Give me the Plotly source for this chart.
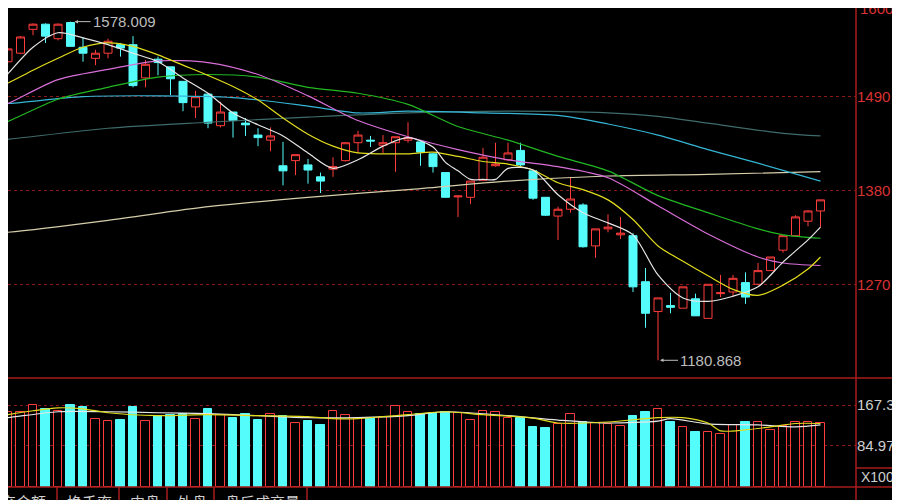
import plotly.graph_objects as go

# daily candles (price)
opens = [1531, 1541, 1569, 1575, 1558, 1577, 1548, 1535, 1541, 1551,
         1551, 1512, 1534, 1525, 1508, 1478, 1493, 1456, 1472, 1459,
         1445, 1439, 1409, 1415, 1410, 1396, 1405, 1415, 1436, 1439,
         1433, 1436, 1439, 1437, 1423, 1401, 1372.5, 1372, 1392, 1409,
         1416, 1427, 1403, 1372, 1350, 1358, 1363, 1315, 1335, 1328,
         1327, 1273, 1238, 1245, 1242, 1253, 1230, 1259, 1261, 1272,
         1270, 1286, 1310, 1327, 1344, 1356]
highs = [1547, 1561, 1576, 1576, 1576, 1578.009, 1560, 1545, 1558, 1553,
         1561, 1533, 1537, 1525, 1508, 1497, 1494, 1484, 1472, 1465,
         1453, 1454, 1437, 1422, 1417, 1401, 1419, 1436, 1450, 1444,
         1445, 1443, 1460, 1439, 1424, 1401, 1374, 1391, 1430, 1436,
         1436, 1436, 1403, 1372, 1361, 1396, 1365, 1335, 1352, 1349,
         1330, 1289, 1254, 1260, 1267, 1259, 1270, 1281, 1281, 1284,
         1295, 1302, 1328, 1351, 1357, 1369]
lows = [1530, 1540, 1562, 1553, 1556, 1549, 1531, 1527, 1535, 1537,
        1501, 1501, 1515, 1492, 1473, 1465, 1453, 1454, 1442, 1444,
        1432, 1426, 1386, 1398, 1388, 1377, 1396, 1414, 1424, 1431,
        1424, 1402, 1436, 1409, 1401, 1372, 1349, 1364, 1391, 1408,
        1415, 1408, 1369, 1350, 1322, 1354, 1313, 1301, 1331, 1323,
        1261, 1219, 1180.868, 1236, 1242, 1233, 1230, 1255, 1255, 1247,
        1269, 1286, 1307, 1327, 1338, 1337]
closes = [1546, 1560, 1575, 1561, 1575, 1549, 1541, 1541, 1555, 1547,
          1503, 1528, 1530, 1511, 1483, 1490, 1459, 1472, 1462, 1457,
          1442, 1444, 1403, 1422, 1404, 1391, 1408, 1436, 1445, 1438,
          1436, 1443, 1442, 1425, 1408, 1372, 1373.5, 1391, 1419, 1411,
          1424, 1410, 1371, 1351, 1358, 1370, 1314, 1335, 1337, 1330,
          1267, 1236, 1254, 1243, 1267, 1233, 1270, 1260, 1277, 1255,
          1286, 1302, 1327, 1349, 1356, 1369]
# volume (x1000)
volumes = [154, 154, 168, 159, 156, 168, 163, 139, 136, 137,
           163, 136, 146, 148, 150, 139, 160, 148, 142, 150,
           137, 150, 146, 132, 135, 127, 156, 148, 139, 141,
           144, 166, 154, 150, 151, 154, 151, 137, 156, 153,
           142, 141, 123, 121, 129, 150, 134, 131, 129, 124,
           146, 153, 159, 133, 122, 112, 112, 109, 127, 133,
           134, 117, 124, 134, 134, 132]
days = list(range(len(opens)))

# moving averages (day index, value)
ma5_x = [-1, 0, 2, 4, 6, 8, 10, 12, 14, 16, 18, 20, 22, 24, 26, 28, 30, 32, 34,
         35, 36, 37, 38, 39, 40, 42, 44, 46, 48, 50, 52, 54, 56, 58, 60, 62, 64, 65]
ma5_y = [1501, 1517, 1548, 1565, 1559, 1551, 1541, 1531, 1512, 1494, 1471, 1457, 1444,
         1424, 1406, 1416, 1432, 1442, 1431, 1413, 1403, 1393, 1393, 1393, 1406, 1404,
         1375, 1354, 1342, 1328, 1281, 1254, 1250, 1256, 1267, 1296, 1322, 1337]
ma10_x = [-1, 0, 2, 4, 6, 8, 10, 12, 14, 16, 18, 20, 22, 24, 26, 28, 30, 32, 34, 36,
          38, 40, 42, 44, 46, 48, 50, 52, 54, 56, 58, 60, 62, 64, 65]
ma10_y = [1500, 1506, 1521, 1535, 1548, 1553, 1549, 1539, 1527, 1515, 1502, 1486, 1465,
          1446, 1432, 1424, 1423, 1423, 1425, 1420, 1414, 1411, 1404, 1389, 1381, 1369,
          1346, 1315, 1297, 1280, 1264, 1257, 1269, 1288, 1302]
ma20_x = [-1, 0, 4, 8, 12, 16, 20, 24, 28, 32, 36, 40, 44, 48, 52, 56, 60, 62, 65]
ma20_y = [1477, 1482, 1510, 1522, 1532, 1530, 1516, 1491, 1462, 1443, 1428, 1416, 1408,
          1395, 1362, 1329, 1302, 1295, 1292]
ma30_x = [-1, 0, 4, 8, 12, 16, 20, 24, 28, 32, 36, 40, 44, 48, 52, 56, 60, 62, 65]
ma30_y = [1456, 1461, 1487, 1501, 1513, 1516, 1513, 1501, 1494, 1481, 1455, 1439, 1420,
          1403, 1374, 1354, 1335, 1328, 1324]
ma60_x = [-1, 0, 6, 12, 18, 24, 28, 32, 38, 44, 48, 52, 56, 60, 65]
ma60_y = [1482, 1482, 1490, 1491, 1489, 1479, 1471, 1473, 1471, 1468, 1458, 1445, 1428,
          1412, 1391]
ma120_x = [-1, 0, 8, 16, 24, 32, 40, 48, 52, 56, 62, 65]
ma120_y = [1439, 1440, 1453, 1460, 1466, 1471, 1473, 1471, 1467, 1459, 1447, 1444]
ma250_x = [-1, 0, 8, 16, 24, 32, 40, 48, 56, 65]
ma250_y = [1330, 1331, 1345, 1361, 1372, 1381, 1391, 1397, 1399, 1402]

volma_w_x = [-1, 0, 4, 8, 12, 16, 20, 24, 28, 32, 35, 40, 44, 48, 52, 53, 56, 60, 63, 65]
volma_w_y = [140, 142, 154, 154, 152, 150, 146, 142, 142, 146, 154, 146, 137, 131, 135,
             140, 129, 127, 123, 127]
volma_y_x = [-1, 0, 2, 4, 6, 8, 12, 16, 20, 24, 26, 28, 30, 32, 35, 38, 42, 44, 48, 52,
             54, 56, 57, 59, 61, 63, 65]
volma_y_y = [143, 148, 156, 162, 160, 152, 146, 148, 146, 144, 140, 140, 144, 148, 154,
             148, 141, 131, 133, 142, 142, 131, 115, 117, 123, 130, 130]

price_ticks = [1270, 1380, 1490]
top_tick = 1600
vol_ticks = [84.97, 167.37]
tabs = ['成交金额', '换手率', '内盘', '外盘', '盘后成交量']

RED = '#ff3c3c'
CYAN = '#55fcfc'
FRAME = '#a81c1c'
GRID = '#8a1a1a'
LABEL = '#cfcfcf'
FONT = 'Liberation Sans, Arial, sans-serif'

# the page puts the figure 8px in from the top-left corner of the window,
# so the figure is 8px smaller and every pixel position below is shifted by 8
OFF = 8
W, H = 900 - OFF, 500 - OFF
PLOT_R, PLOT_B = 856, 487            # right / bottom edge of the plot area (window px)
PW, PH = PLOT_R - OFF, PLOT_B - OFF


def fx(p):
    return (p - OFF) / PW


def fy(p):
    return (PLOT_B - p) / PH


fig = go.Figure()
fig.add_trace(go.Candlestick(
    x=days, open=opens, high=highs, low=lows, close=closes,
    increasing=dict(line=dict(color=RED, width=1), fillcolor='black'),
    decreasing=dict(line=dict(color=CYAN, width=1), fillcolor=CYAN),
    whiskerwidth=0, hoverinfo='skip'))

ma_lines = [(ma250_x, ma250_y, '#d6ceaa'), (ma120_x, ma120_y, '#3f6b6b'),
            (ma60_x, ma60_y, '#35b6d6'), (ma30_x, ma30_y, '#22b822'),
            (ma20_x, ma20_y, '#d86ed8'), (ma10_x, ma10_y, '#e2dc1e'),
            (ma5_x, ma5_y, '#e6e6e6')]
for xs, ys, c in ma_lines:
    fig.add_trace(go.Scatter(x=xs, y=ys, mode='lines', hoverinfo='skip',
                             line=dict(color=c, width=1.2, shape='spline', smoothing=0.8)))

up = [c >= o for o, c in zip(opens, closes)]
fig.add_trace(go.Bar(
    x=days, y=volumes, yaxis='y2', width=0.66, hoverinfo='skip',
    marker=dict(color=['black' if u else CYAN for u in up],
                line=dict(color=[RED if u else CYAN for u in up], width=1))))
for xs, ys, c in [(volma_w_x, volma_w_y, '#e6e6e6'), (volma_y_x, volma_y_y, '#e2dc1e')]:
    fig.add_trace(go.Scatter(x=xs, y=ys, yaxis='y2', mode='lines', hoverinfo='skip',
                             line=dict(color=c, width=1.2, shape='spline', smoothing=0.8)))

shapes = [
    dict(type='line', xref='paper', yref='paper', x0=1, x1=1, y0=1, y1=fy(500),
         line=dict(color=FRAME, width=1.5)),
    dict(type='line', xref='paper', yref='paper', x0=0, x1=fx(900), y0=fy(378), y1=fy(378),
         line=dict(color=FRAME, width=1.5)),
    dict(type='line', xref='paper', yref='paper', x0=0, x1=fx(900), y0=fy(487), y1=fy(487),
         line=dict(color=FRAME, width=1.5)),
    dict(type='line', xref='paper', yref='paper', x0=1, x1=fx(900), y0=fy(468), y1=fy(468),
         line=dict(color=FRAME, width=1.5)),
]
for sx in [57, 119, 167, 214, 307]:
    shapes.append(dict(type='line', xref='paper', yref='paper', x0=fx(sx), x1=fx(sx),
                       y0=fy(487), y1=fy(500), line=dict(color=FRAME, width=1.5)))

annotations = [
    dict(x=5, y=1578.009, text='1578.009', showarrow=True, ax=20, ay=0, xanchor='left',
         arrowhead=2, arrowsize=0.7, arrowwidth=1, arrowcolor='#bdbdbd', standoff=4,
         font=dict(color='#bdbdbd', size=15, family=FONT)),
    dict(x=52, y=1180.868, text='1180.868', showarrow=True, ax=20, ay=0, xanchor='left',
         arrowhead=2, arrowsize=0.7, arrowwidth=1, arrowcolor='#bdbdbd', standoff=2,
         font=dict(color='#bdbdbd', size=15, family=FONT)),
    dict(xref='paper', yref='paper', x=fx(858), y=1, text=str(top_tick), showarrow=False,
         xanchor='left', yanchor='middle', font=dict(color='#d83232', size=15, family=FONT)),
    dict(xref='paper', yref='paper', x=fx(859), y=fy(477), text='X1000', showarrow=False,
         xanchor='left', yanchor='middle', font=dict(color=LABEL, size=14, family=FONT)),
]
tab_pos = [(48, 'right'), (65, 'left'), (128, 'left'), (175, 'left'), (223, 'left')]
for t, (tx, anc) in zip(tabs, tab_pos):
    annotations.append(dict(xref='paper', yref='paper', x=fx(tx), y=fy(489), text=t,
                            showarrow=False, xanchor=anc, yanchor='top',
                            font=dict(color=LABEL, size=15, family='Noto Sans CJK SC')))

fig.update_layout(
    width=W, height=H,
    margin=dict(l=0, r=W - PW, t=0, b=H - PH, pad=0, autoexpand=False),
    paper_bgcolor='black', plot_bgcolor='black', showlegend=False,
    boxgap=0.36, boxgroupgap=0, bargap=0,
    font=dict(family=FONT),
    xaxis=dict(range=[0, 67.84], showgrid=False, zeroline=False, showticklabels=False,
               showline=False, automargin=False, rangeslider=dict(visible=False)),
    yaxis=dict(domain=[fy(378), 1], range=[1160.1, 1594.0], side='right',
               tickvals=price_ticks, ticks='', zeroline=False, automargin=False,
               tickfont=dict(color='#d83232', size=15, family=FONT),
               showgrid=True, gridcolor=GRID, griddash='dot', gridwidth=1),
    yaxis2=dict(domain=[0, fy(380)], range=[0, 219], side='right', anchor='x',
                tickvals=vol_ticks, ticktext=['%.2f' % v for v in vol_ticks], ticks='',
                zeroline=False, automargin=False,
                tickfont=dict(color=LABEL, size=15, family=FONT),
                showgrid=True, gridcolor=GRID, griddash='dot', gridwidth=1),
    shapes=shapes, annotations=annotations,
)

fig.write_html("out.html")
